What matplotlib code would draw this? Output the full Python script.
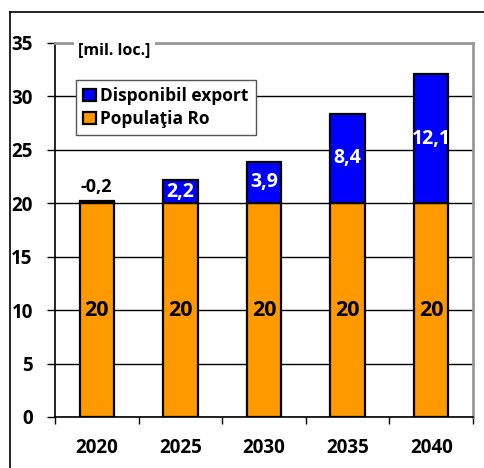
import numpy as np
import matplotlib
matplotlib.use("Agg")
from matplotlib import pyplot as plt
from matplotlib.lines import Line2D

years = ["2020", "2025", "2030", "2035", "2040"]
populatia = [20, 20, 20, 20, 20]
export = [-0.2, 2.2, 3.9, 8.4, 12.1]

ORANGE = "#FF9900"
BLUE = "#0000FF"
GRAY = "#999999"

plt.rcParams['font.family'] = ['Open Sans', 'DejaVu Sans']
plt.rcParams['font.weight'] = 'bold'


def fmt(v):
    return ("%.1f" % v).replace(".", ",")


fig = plt.figure(figsize=(4.84, 4.68), dpi=100)

# outer chart frame (clipped by the image on right and bottom)
fig.add_artist(Line2D([10 / 484, 10 / 484], [0, 1 - 12 / 468], color="black", lw=1.2))
fig.add_artist(Line2D([10 / 484, 1], [1 - 12 / 468, 1 - 12 / 468], color="black", lw=1.2))

ax = fig.add_axes([55 / 484, 51 / 468, 418 / 484, 374 / 468])

x = np.arange(len(years))
export_h = np.abs(export)
width = 0.41

ax.bar(x, populatia, width, color=ORANGE, edgecolor="black", linewidth=1.6,
       label="Populaţia Ro", zorder=3)
ax.bar(x, export_h, width, bottom=populatia, color=BLUE, edgecolor="black",
       linewidth=1.6, label="Disponibil export", zorder=3)

for xi, p, e in zip(x, populatia, export):
    ax.text(xi, p / 2, fmt(p).split(",")[0], ha="center", va="center",
            fontsize=15.5, fontweight="bold", color="black", zorder=4)
    if abs(e) < 1:
        ax.text(xi, p + abs(e) + 0.5, fmt(e), ha="center", va="bottom",
                fontsize=13, fontweight="bold", color="black", zorder=4)
    else:
        ax.text(xi, p + abs(e) / 2, fmt(e), ha="center", va="center",
                fontsize=14, fontweight="bold", color="white", zorder=4)

ax.set_xlim(-0.5, len(years) - 0.5)
ax.set_ylim(0, 35)
ax.set_yticks(np.arange(0, 36, 5))
ax.yaxis.grid(True, color="black", linewidth=1.0, zorder=0)
ax.set_axisbelow(True)

ax.set_xticks(x)
ax.set_xticklabels(years)
ax.set_xticks(np.arange(-0.5, len(years), 1), minor=True)
ax.tick_params(axis="x", which="major", length=0, pad=15, labelsize=13.5)
ax.tick_params(axis="x", which="minor", length=5, width=1, color="black")
ax.tick_params(axis="y", length=6, width=1, pad=10, labelsize=13.5)
for lbl in ax.get_xticklabels() + ax.get_yticklabels():
    lbl.set_fontweight("bold")

ax.spines["left"].set_color("black")
ax.spines["bottom"].set_color("black")
ax.spines["left"].set_linewidth(1.2)
ax.spines["bottom"].set_linewidth(1.2)
for s in ("top", "right"):
    ax.spines[s].set_color(GRAY)
    ax.spines[s].set_linewidth(2)

ax.text(0.055, 0.98, "[mil. loc.]", transform=ax.transAxes, ha="left", va="center",
        fontsize=11.5, fontweight="bold", zorder=6,
        bbox=dict(facecolor="white", edgecolor="none", pad=3))

handles, labels = ax.get_legend_handles_labels()
leg = ax.legend(handles[::-1], labels[::-1], loc="upper left",
                bbox_to_anchor=(0.05, 0.901), borderaxespad=0, fancybox=False,
                framealpha=1, edgecolor="#555555", handlelength=0.75, handleheight=0.75,
                handletextpad=0.25, labelspacing=0.3, borderpad=0.4,
                prop={"weight": "bold", "size": 12.5})
leg.get_frame().set_linewidth(1)
leg.set_zorder(5)

fig.savefig("out.png", dpi=100)
